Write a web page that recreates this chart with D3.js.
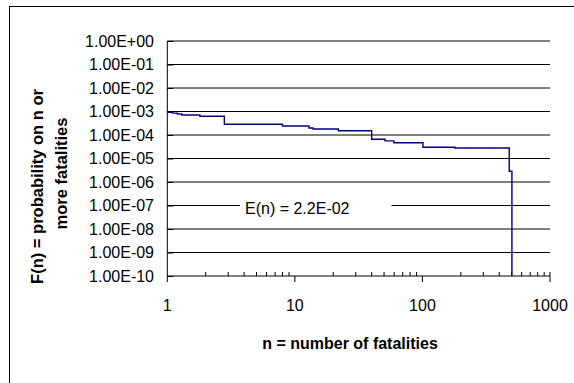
<!DOCTYPE html>
<html>
<head>
<meta charset="utf-8">
<script src="https://cdn.jsdelivr.net/npm/d3@7"></script>
<style>
  html, body { margin: 0; padding: 0; background: #fff; }
  svg { display: block; font-family: "Liberation Sans", Arial, sans-serif; }
</style>
</head>
<body>
<svg id="chart" width="574" height="383"></svg>
<script>
// F-N curve: probability of n or more fatalities (step function)
const nSteps = [1, 1.1, 1.2, 1.3, 1.8, 2.8, 8.0, 12.9, 13.9, 21.9, 40, 50.9, 59.8, 101, 180, 479, 503];
const fSteps = [9.2e-4, 8.5e-4, 7.8e-4, 7.1e-4, 6.25e-4, 2.85e-4, 2.4e-4, 2.0e-4, 1.8e-4, 1.52e-4,
                6.6e-5, 5.6e-5, 4.7e-5, 3.0e-5, 2.8e-5, 2.85e-6, 1e-10];

const yTicks = [1, 1e-1, 1e-2, 1e-3, 1e-4, 1e-5, 1e-6, 1e-7, 1e-8, 1e-9, 1e-10];
const yTickLabels = ["1.00E+00", "1.00E-01", "1.00E-02", "1.00E-03", "1.00E-04", "1.00E-05",
                     "1.00E-06", "1.00E-07", "1.00E-08", "1.00E-09", "1.00E-10"];
const xTicks = [1, 10, 100, 1000];
const xTickLabels = ["1", "10", "100", "1000"];

const expectation = "E(n) = 2.2E-02";
const expectationLevel = 1e-7;
const xTitle = "n = number of fatalities";
const yTitleLines = ["F(n) = probability on n or", "more fatalities"];

const svg = d3.select("#chart");
const plot = { left: 167.3, right: 550, top: 41, bottom: 276 };

const x = d3.scaleLog().domain([1, 1000]).range([plot.left, plot.right]);
const y = d3.scaleLog().domain([1e-10, 1]).range([plot.bottom, plot.top]);

// outer chart frame
svg.append("rect")
  .attr("x", 9.5).attr("y", 6.5)
  .attr("width", 620).attr("height", 420)
  .attr("fill", "none").attr("stroke", "#000").attr("stroke-width", 1);

// horizontal gridlines
svg.append("g").selectAll("line")
  .data(yTicks.filter(d => d > 1e-10))
  .join("line")
  .attr("x1", plot.left).attr("x2", plot.right)
  .attr("y1", d => y(d)).attr("y2", d => y(d))
  .attr("stroke", "#000").attr("stroke-width", 1);

// y axis: major ticks pointing into the plot, labels on the left
const yAxis = d3.axisRight(y)
  .tickValues(yTicks)
  .tickSize(6)
  .tickFormat("");
const gy = svg.append("g").attr("transform", `translate(${plot.left},0)`).call(yAxis);
gy.select(".domain").attr("d", `M0,${plot.top}V${plot.bottom}`).attr("stroke", "#000");
gy.selectAll(".tick line").attr("stroke", "#000");

svg.append("g").selectAll("text")
  .data(yTicks)
  .join("text")
  .attr("x", 154)
  .attr("y", d => y(d))
  .attr("dy", "0.36em")
  .attr("text-anchor", "end")
  .attr("font-size", 16)
  .attr("fill", "#000")
  .text((d, i) => yTickLabels[i]);

// x axis: major ticks below, minor ticks inside
const gx = svg.append("g").attr("transform", `translate(0,${plot.bottom})`);
gx.append("line")
  .attr("x1", plot.left).attr("x2", plot.right)
  .attr("stroke", "#000");
const minorTicks = x.ticks().filter(d => !xTicks.includes(d));
gx.selectAll("line.minor")
  .data(minorTicks)
  .join("line").attr("class", "minor")
  .attr("x1", d => x(d)).attr("x2", d => x(d))
  .attr("y1", -4).attr("y2", 0)
  .attr("stroke", "#000");
gx.selectAll("line.major")
  .data(xTicks)
  .join("line").attr("class", "major")
  .attr("x1", d => x(d)).attr("x2", d => x(d))
  .attr("y1", d => d === 1000 ? -4 : 0).attr("y2", 6)
  .attr("stroke", "#000");
gx.selectAll("text")
  .data(xTicks)
  .join("text")
  .attr("x", d => x(d))
  .attr("y", 29)
  .attr("dy", "0.36em")
  .attr("text-anchor", "middle")
  .attr("font-size", 16)
  .attr("fill", "#000")
  .text((d, i) => xTickLabels[i]);

// step curve
const line = d3.line()
  .x(d => x(d[0]))
  .y(d => y(d[1]))
  .curve(d3.curveStepAfter);
svg.append("path")
  .datum(nSteps.map((n, i) => [n, fSteps[i]]))
  .attr("d", line)
  .attr("fill", "none")
  .attr("stroke", "#000080")
  .attr("stroke-width", 1.4);

// expected value label sitting on the 1E-07 gridline
const ey = y(expectationLevel);
svg.append("rect")
  .attr("x", 240).attr("y", ey - 9)
  .attr("width", 151.5).attr("height", 19)
  .attr("fill", "#fff");
svg.append("text")
  .attr("x", 245).attr("y", ey + 3)
  .attr("dy", "0.36em")
  .attr("font-size", 16)
  .attr("fill", "#000")
  .text(expectation);

// axis titles
svg.append("text")
  .attr("x", 350).attr("y", 343)
  .attr("dy", "0.36em")
  .attr("text-anchor", "middle")
  .attr("font-size", 16).attr("font-weight", "bold")
  .text(xTitle);

const yTitleCenters = [[37, 186.5], [61.5, 173.5]];
svg.append("g").selectAll("text")
  .data(yTitleLines)
  .join("text")
  .attr("transform", (d, i) => `translate(${yTitleCenters[i][0]},${yTitleCenters[i][1]}) rotate(-90)`)
  .attr("dy", "0.36em")
  .attr("text-anchor", "middle")
  .attr("font-size", 16.5).attr("font-weight", "bold")
  .text(d => d);
</script>
</body>
</html>
